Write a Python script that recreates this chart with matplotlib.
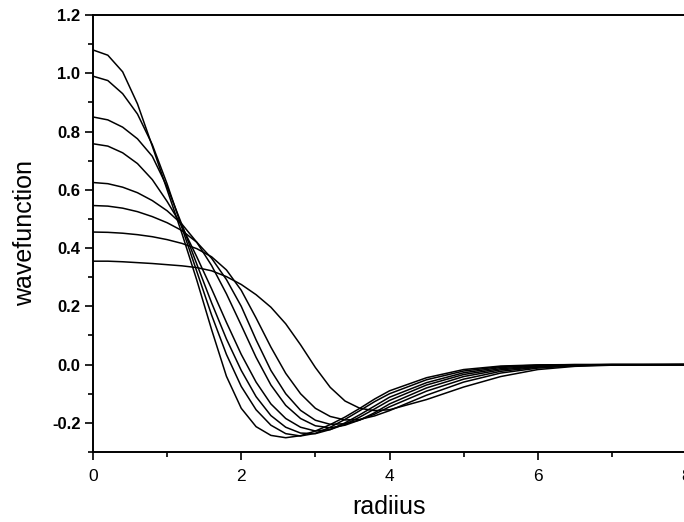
import matplotlib
matplotlib.use("Agg")
import matplotlib.pyplot as plt
from matplotlib.ticker import MultipleLocator, FormatStrFormatter

radius = [0, 0.2, 0.4, 0.6, 0.8, 1.0, 1.2, 1.4, 1.6, 1.8, 2.0, 2.2, 2.4, 2.6,
          2.8, 3.0, 3.2, 3.4, 3.6, 3.8, 4.0, 4.5, 5.0, 5.5, 6.0, 6.5, 7.0, 8.0]

# wavefunctions, highest peak first
psi_1 = [1.080, 1.062, 1.005, 0.895, 0.750, 0.600, 0.450, 0.290, 0.120, -0.040, -0.150, -0.213, -0.243, -0.251,
         -0.244, -0.228, -0.206, -0.180, -0.150, -0.118, -0.090, -0.045, -0.017, -0.005, -0.001, 0.0, 0.0, 0.0]
psi_2 = [0.990, 0.975, 0.930, 0.860, 0.755, 0.620, 0.470, 0.320, 0.170, 0.035, -0.075, -0.155, -0.208, -0.237,
         -0.245, -0.236, -0.215, -0.188, -0.158, -0.127, -0.100, -0.052, -0.022, -0.007, -0.002, 0.0, 0.0, 0.0]
psi_3 = [0.850, 0.840, 0.815, 0.775, 0.715, 0.610, 0.480, 0.345, 0.212, 0.088, -0.020, -0.110, -0.175, -0.215,
         -0.235, -0.237, -0.223, -0.200, -0.172, -0.142, -0.112, -0.062, -0.028, -0.010, -0.003, -0.001, 0.0, 0.0]
psi_4 = [0.758, 0.750, 0.727, 0.690, 0.635, 0.560, 0.475, 0.370, 0.260, 0.145, 0.035, -0.060, -0.135, -0.185,
         -0.215, -0.228, -0.223, -0.205, -0.180, -0.152, -0.123, -0.070, -0.034, -0.014, -0.005, -0.001, 0.0, 0.0]
psi_5 = [0.625, 0.621, 0.609, 0.590, 0.563, 0.528, 0.482, 0.420, 0.340, 0.243, 0.135, 0.025, -0.070, -0.140,
         -0.185, -0.210, -0.217, -0.208, -0.190, -0.165, -0.135, -0.080, -0.041, -0.018, -0.007, -0.002, 0.0, 0.0]
psi_6 = [0.546, 0.544, 0.537, 0.525, 0.508, 0.487, 0.460, 0.420, 0.365, 0.292, 0.200, 0.085, -0.020, -0.100,
         -0.157, -0.191, -0.205, -0.203, -0.190, -0.170, -0.145, -0.091, -0.050, -0.023, -0.009, -0.003, -0.001, 0.0]
psi_7 = [0.455, 0.454, 0.451, 0.446, 0.439, 0.429, 0.416, 0.398, 0.370, 0.325, 0.255, 0.160, 0.060, -0.030,
         -0.100, -0.150, -0.178, -0.190, -0.188, -0.176, -0.158, -0.105, -0.060, -0.029, -0.012, -0.004, -0.001, 0.0]
psi_8 = [0.355, 0.355, 0.353, 0.350, 0.347, 0.343, 0.339, 0.333, 0.322, 0.302, 0.275, 0.240, 0.197, 0.140,
         0.068, -0.010, -0.078, -0.125, -0.150, -0.158, -0.155, -0.120, -0.077, -0.041, -0.017, -0.006, -0.002, 0.0]

curves = [psi_1, psi_2, psi_3, psi_4, psi_5, psi_6, psi_7, psi_8]

fig = plt.figure(figsize=(6.84, 5.22), dpi=100)
ax = fig.add_axes([93 / 684, 70 / 522, 593 / 684, 437 / 522])

for psi in curves:
    ax.plot(radius, psi, color="black", linewidth=1.1, solid_joinstyle="round")

ax.set_xlim(0, 8)
ax.set_ylim(-0.3, 1.2)

ax.xaxis.set_major_locator(MultipleLocator(2))
ax.xaxis.set_minor_locator(MultipleLocator(1))
ax.yaxis.set_major_locator(MultipleLocator(0.2))
ax.yaxis.set_minor_locator(MultipleLocator(0.1))
ax.xaxis.set_major_formatter(FormatStrFormatter("%d"))
ax.yaxis.set_major_formatter(FormatStrFormatter("%.1f"))

for s in ax.spines.values():
    s.set_linewidth(1.4)

ax.tick_params(which="both", direction="out", top=False, right=False, width=1.2)
ax.tick_params(which="major", length=6)
ax.tick_params(which="minor", length=3.5)
ax.tick_params(axis="x", which="major", pad=6, labelsize=12.5)
ax.tick_params(axis="y", which="major", pad=3, labelsize=12)

for lab in ax.get_xticklabels():
    lab.set_family("Liberation Sans")
for lab in ax.get_yticklabels():
    lab.set_family("Liberation Sans")
    lab.set_fontweight("bold")

ax.set_xlabel("radiius", fontsize=18, family="Liberation Sans")
ax.set_ylabel("wavefunction", fontsize=18, family="Liberation Sans")
ax.xaxis.set_label_coords(0.5, -0.098)
ax.yaxis.set_label_coords(-0.094, 0.5)

fig.savefig("out.png", dpi=100)
